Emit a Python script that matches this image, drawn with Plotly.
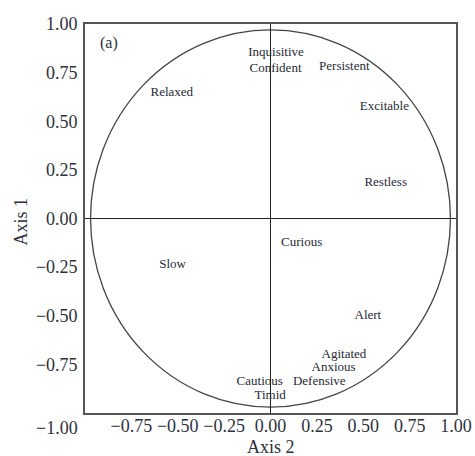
import plotly.graph_objects as go

# Trait loadings on the two ordination axes
traits = ["Inquisitive", "Confident", "Persistent", "Excitable", "Restless",
          "Relaxed", "Slow", "Curious", "Alert", "Agitated", "Anxious",
          "Defensive", "Cautious", "Timid"]
axis2 = [0.03, 0.027, 0.398, 0.614, 0.621,
         -0.532, -0.528, 0.168, 0.525, 0.396, 0.34,
         0.263, -0.058, -0.002]
axis1 = [0.851, 0.772, 0.779, 0.575, 0.184,
         0.647, -0.239, -0.124, -0.501, -0.698, -0.767,
         -0.840, -0.838, -0.912]

x_ticks = [-0.75, -0.5, -0.25, 0.0, 0.25, 0.5, 0.75, 1.0]
y_ticks = [1.0, 0.75, 0.5, 0.25, 0.0, -0.25, -0.5, -0.75]
circle_radius = 0.97

serif = "Liberation Serif"
label_color = "#262a36"
tick_color = "#2e313b"

fig = go.Figure()
fig.add_trace(go.Scatter(
    x=axis2, y=axis1, text=traits, mode="text",
    textposition="middle center",
    textfont=dict(family=serif, size=13, color=label_color),
    hoverinfo="text", showlegend=False,
))

# correlation circle
fig.add_shape(type="circle", xref="x", yref="y",
              x0=-circle_radius, x1=circle_radius,
              y0=-circle_radius, y1=circle_radius,
              line=dict(color="#444", width=1.3), layer="below")

axis_common = dict(
    showgrid=False, zeroline=True, zerolinecolor="#222", zerolinewidth=1,
    showline=True, mirror=True, linecolor="#555", linewidth=1.6,
    ticks="", tickformat=".2f", automargin=False,
    tickfont=dict(family=serif, size=18, color=tick_color),
)

title_font = dict(family=serif, size=18, color=tick_color)

fig.update_layout(
    width=475, height=456,
    margin=dict(l=85, r=19, t=24, b=43),
    paper_bgcolor="white", plot_bgcolor="white",
    xaxis=dict(range=[-1, 1], tickvals=x_ticks, ticklabelstandoff=-4,
               **axis_common),
    yaxis=dict(range=[-1, 1], tickvals=y_ticks, ticklabelstandoff=2,
               **axis_common),
    annotations=[
        dict(text="Axis 2", xref="paper", yref="paper", x=0.5, y=0,
             xanchor="center", yanchor="middle", yshift=-34,
             showarrow=False, font=title_font),
        dict(text="Axis 1", xref="paper", yref="paper", x=0, y=0.5,
             xanchor="center", yanchor="middle", xshift=-65, yshift=-3,
             textangle=-90, showarrow=False, font=title_font),
        dict(text="(a)", xref="paper", yref="paper", x=0.035, y=0.95,
             xanchor="left", yanchor="middle", showarrow=False,
             font=dict(family=serif, size=16, color=tick_color)),
        dict(text="\u22121.00", xref="paper", yref="paper", x=0, y=0,
             xanchor="right", yanchor="middle", xshift=-5, yshift=-15,
             showarrow=False,
             font=dict(family=serif, size=18, color=tick_color)),
    ],
)

fig.write_html("out.html")
